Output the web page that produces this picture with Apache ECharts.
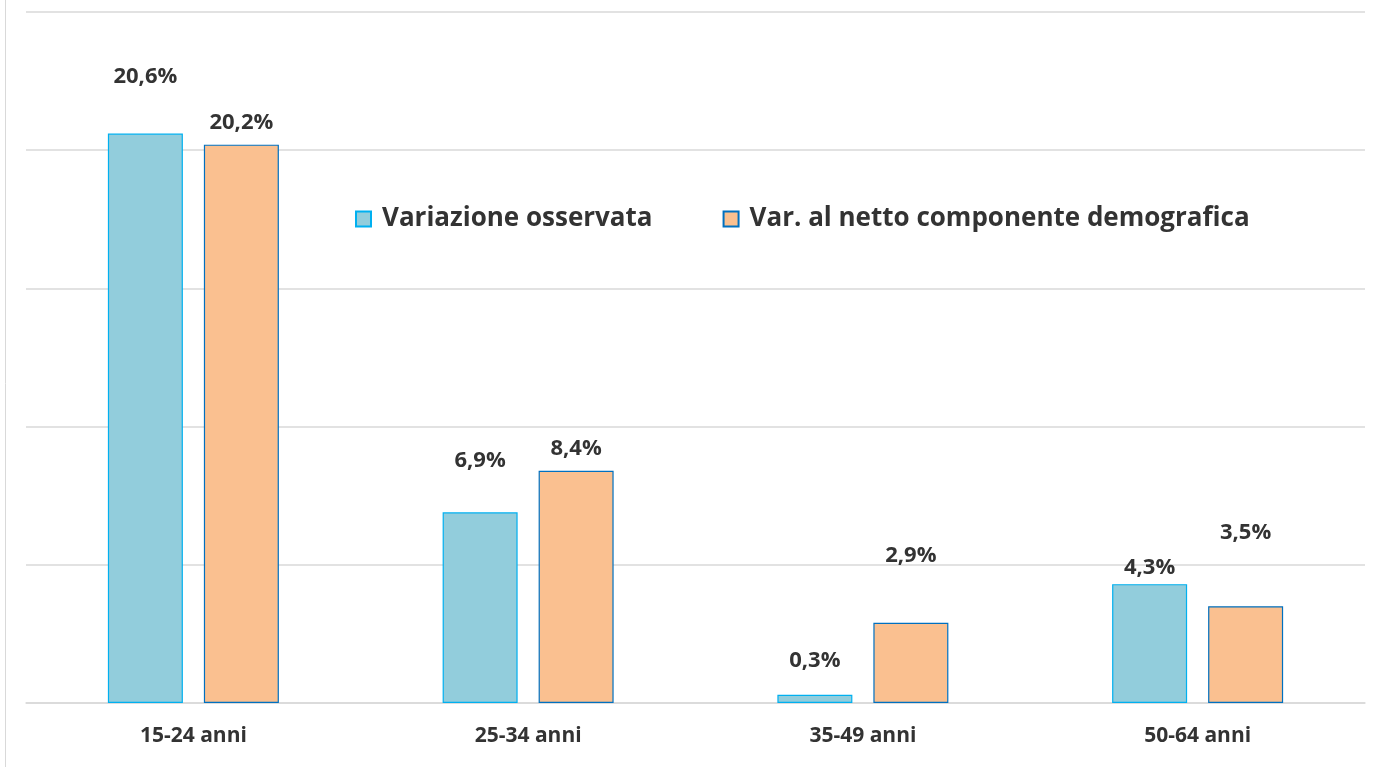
<!DOCTYPE html>
<html lang="it">

<head>
    <meta charset="UTF-8">
    <title>Variazione per classe di età</title>
    <script src="https://cdn.jsdelivr.net/npm/echarts@6/dist/echarts.min.js"></script>
    <style>
        body,
        html {
            background-color: #fff;
            width: 100%;
            height: 100%;
            margin: 0;
        }
    </style>
</head>

<body>
    <div id="chart" style="width: 1373px; height: 767px;"></div>
    <script>
        // dati
        var categories = ['15-24 anni', '25-34 anni', '35-49 anni', '50-64 anni'];
        var osservata = [20.6, 6.9, 0.3, 4.3];
        var alNetto = [20.2, 8.4, 2.9, 3.5];
        var seriesNames = ['Variazione osservata', 'Var. al netto componente demografica'];

        // spostamento verticale delle etichette come nell'originale
        var offOss = [-41, -36, -18, 0];
        var offNet = [-6, -6, -51, -58];

        var font = '"Open Sans", sans-serif';

        function withLabels(values, offs) {
            return values.map(function (v, i) {
                return { value: v, label: { offset: [0, offs[i]] } };
            });
        }

        var labelStyle = {
            show: true,
            position: 'top',
            distance: 5,
            color: '#333',
            fontFamily: font,
            fontWeight: 'bold',
            fontSize: 22,
            formatter: function (p) {
                return p.value.toFixed(1).replace('.', ',') + '%';
            }
        };

        var option = {
            animation: false,
            grid: { left: 26, right: 8, top: 12, bottom: 64 },
            legend: {
                left: 350,
                top: 201,
                icon: 'rect',
                itemWidth: 15,
                itemHeight: 15,
                itemGap: 70,
                textStyle: {
                    color: '#333', fontFamily: font, fontWeight: 'bold', fontSize: 26,
                    padding: [0, 0, 0, 6]
                },
                data: seriesNames
            },
            graphic: [{
                type: 'line',
                shape: { x1: 5.5, y1: 0, x2: 5.5, y2: 767 },
                style: { stroke: '#d9d9d9', lineWidth: 1 }
            }],
            xAxis: {
                type: 'category',
                data: categories,
                axisLine: { lineStyle: { color: '#d9d9d9', width: 1.5 } },
                axisTick: { show: false },
                axisLabel: {
                    color: '#333',
                    fontFamily: font,
                    fontWeight: 'bold',
                    fontSize: 21,
                    margin: 23
                }
            },
            yAxis: {
                type: 'value',
                min: 0,
                max: 25,
                interval: 5,
                axisLabel: { show: false },
                axisLine: { show: false },
                axisTick: { show: false },
                splitLine: { lineStyle: { color: '#d9d9d9', width: 1.5 } }
            },
            series: [
                {
                    name: seriesNames[0],
                    type: 'bar',
                    barWidth: 75,
                    barGap: '28%',
                    itemStyle: { color: '#92cddc', borderColor: '#00b0f0', borderWidth: 1.2 },
                    label: labelStyle,
                    data: withLabels(osservata, offOss)
                },
                {
                    name: seriesNames[1],
                    type: 'bar',
                    barWidth: 75,
                    itemStyle: { color: '#fac090', borderColor: '#0070c0', borderWidth: 1.2 },
                    label: labelStyle,
                    data: withLabels(alNetto, offNet)
                }
            ]
        };

        var myChart = echarts.init(document.getElementById('chart'));
        myChart.setOption(option);
    </script>
</body>

</html>
